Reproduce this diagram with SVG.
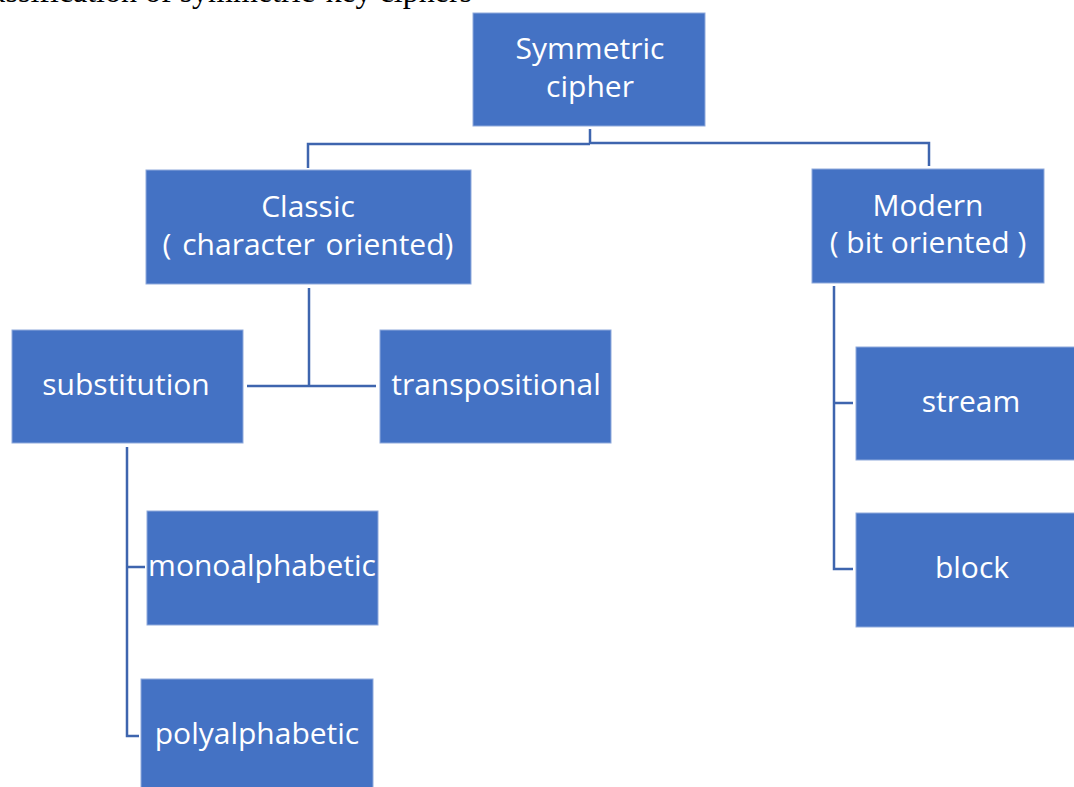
<svg xmlns="http://www.w3.org/2000/svg" width="1074" height="787" viewBox="0 0 1074 787">
  <style>
    .box { fill: #4472C4; stroke: #8FAADC; stroke-width: 1; }
    .lbl { fill: #FFFFFF; font-family: "Open Sans", "Noto Sans", sans-serif; font-size: 30px; text-anchor: middle; }
    .conn { fill: none; stroke: #3E65AE; stroke-width: 2.5; }
    .caption { fill: #000000; font-family: "Liberation Serif", serif; font-size: 32px; }
  </style>
  <rect width="1074" height="787" fill="#FFFFFF"/>

  <!-- caption, clipped by the top edge -->
  <text class="caption" x="472" y="2" text-anchor="end">Classification of symmetric-key ciphers</text>

  <!-- connectors -->
  <g id="connectors">
    <path class="conn" d="M590 129 V144 M308 168 V144 H590 M929 166 V143 H590"/>
    <path class="conn" d="M309 288 V386 M247 386 H376"/>
    <path class="conn" d="M127 447 V736 H139 M127 567 H145"/>
    <path class="conn" d="M834 286 V569 H853 M834 403 H853"/>
  </g>

  <g id="node-symmetric">
    <rect class="box" x="473" y="13" width="232" height="113"/>
    <text class="lbl" x="590" y="59">Symmetric</text>
    <text class="lbl" x="590" y="97">cipher</text>
  </g>

  <g id="node-classic">
    <rect class="box" x="146" y="170" width="325" height="114"/>
    <text class="lbl" x="308" y="217">Classic</text>
    <text class="lbl" x="308" y="255" word-spacing="3">( character oriented)</text>
  </g>

  <g id="node-modern">
    <rect class="box" x="812" y="169" width="232" height="114"/>
    <text class="lbl" x="928" y="216">Modern</text>
    <text class="lbl" x="928" y="253">( bit oriented )</text>
  </g>

  <g id="node-substitution">
    <rect class="box" x="12" y="330" width="231" height="113"/>
    <text class="lbl" x="126" y="395">substitution</text>
  </g>

  <g id="node-transpositional">
    <rect class="box" x="380" y="330" width="231" height="113"/>
    <text class="lbl" x="496" y="395">transpositional</text>
  </g>

  <g id="node-stream">
    <rect class="box" x="856" y="347" width="220" height="113"/>
    <text class="lbl" x="971" y="412">stream</text>
  </g>

  <g id="node-block">
    <rect class="box" x="856" y="513" width="220" height="114"/>
    <text class="lbl" x="972" y="578">block</text>
  </g>

  <g id="node-monoalphabetic">
    <rect class="box" x="147" y="511" width="231" height="114"/>
    <text class="lbl" x="262" y="576">monoalphabetic</text>
  </g>

  <g id="node-polyalphabetic">
    <rect class="box" x="141" y="679" width="232" height="112"/>
    <text class="lbl" x="257" y="744">polyalphabetic</text>
  </g>
</svg>
